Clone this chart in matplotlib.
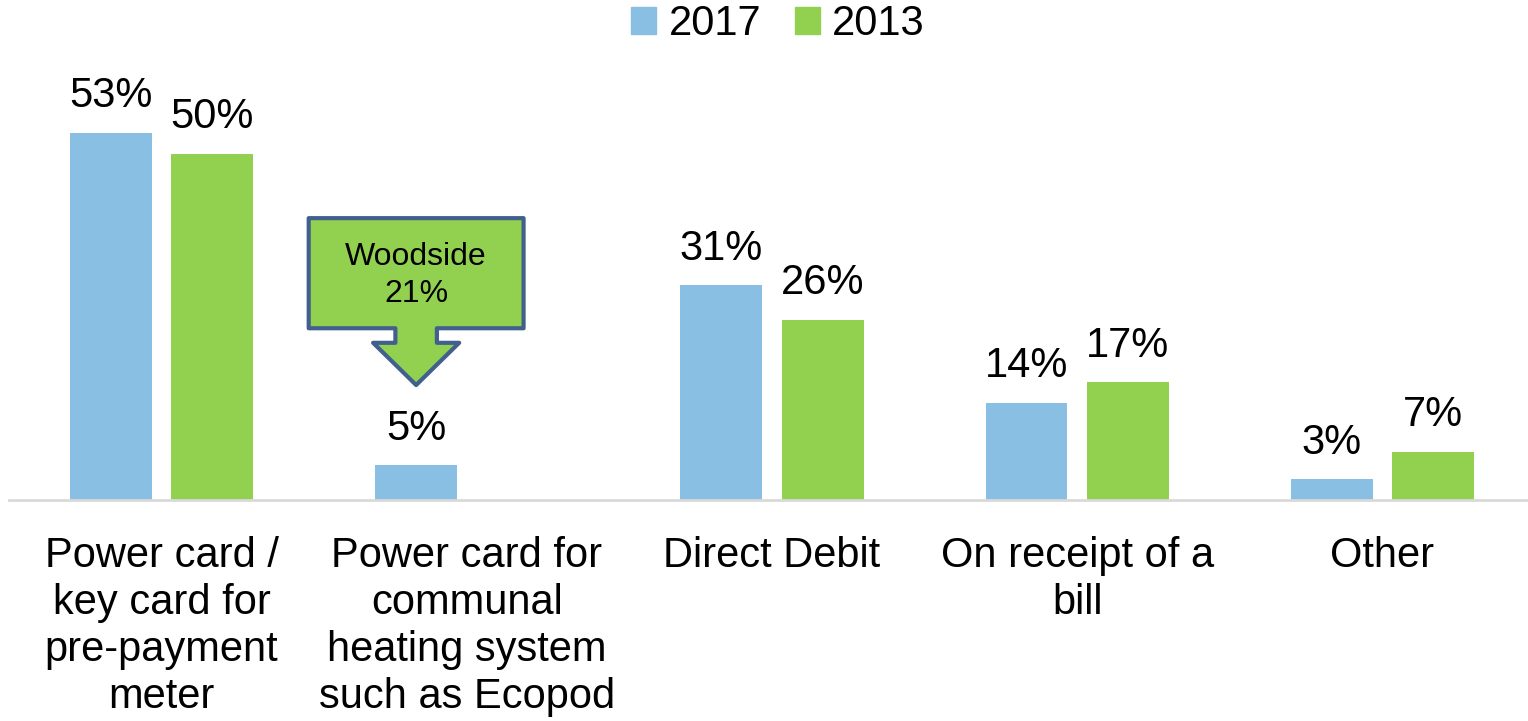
import matplotlib.pyplot as plt
from matplotlib.patches import Polygon, Patch
import numpy as np

plt.rcParams['font.family'] = ['Liberation Sans', 'DejaVu Sans']

categories = ["Power card /\nkey card for\npre-payment\nmeter",
              "Power card for\ncommunal\nheating system\nsuch as Ecopod",
              "Direct Debit",
              "On receipt of a\nbill",
              "Other"]
vals_2017 = [53, 5, 31, 14, 3]
vals_2013 = [50, None, 26, 17, 7]
woodside_pct = 21

c2017 = '#89BFE2'
c2013 = '#92D050'

fig = plt.figure(figsize=(15.28, 7.21), dpi=100)
ax = fig.add_axes([9 / 1528, 221 / 721, 1526 / 1528, 415.5 / 721])

x = np.arange(len(categories))
w = 0.268
off = 0.166

for xi, v in zip(x, vals_2017):
    ax.bar(xi - off, v, w, color=c2017)
    ax.annotate(f"{v}%", (xi - off, v), xytext=(0, 12), textcoords='offset points',
                ha='center', va='bottom', fontsize=30)
for xi, v in zip(x, vals_2013):
    if v is None:
        continue
    ax.bar(xi + off, v, w, color=c2013)
    ax.annotate(f"{v}%", (xi + off, v), xytext=(0, 12), textcoords='offset points',
                ha='center', va='bottom', fontsize=30)

ax.set_xlim(-0.5, len(categories) - 0.5)
ax.set_ylim(0, 60)
for s in ['top', 'right', 'left']:
    ax.spines[s].set_visible(False)
ax.spines['bottom'].set_color('#D9D9D9')
ax.spines['bottom'].set_linewidth(2)
ax.set_yticks([])
ax.set_xticks(x)
ax.set_xticklabels(categories, fontsize=30, linespacing=1.22, va='top')
ax.tick_params(axis='x', length=0, pad=26)

# down-arrow callout pointing at the communal heating bar
cx = 1 - off
tip = vals_2017[1] + 11.6
rw, sw, hw = 0.352, 0.068, 0.141
top, rb, ht = tip + 24.1, tip + 8.2, tip + 6.1
pts = [(cx - rw, top), (cx + rw, top), (cx + rw, rb), (cx + sw, rb), (cx + sw, ht),
       (cx + hw, ht), (cx, tip), (cx - hw, ht), (cx - sw, ht), (cx - sw, rb),
       (cx - rw, rb)]
ax.add_patch(Polygon(pts, closed=True, facecolor=c2013, edgecolor='#41608E',
                     linewidth=3, joinstyle='round', clip_on=False, zorder=5))
ax.text(cx, (top + rb) / 2 - 0.3, f"Woodside\n{woodside_pct}%", ha='center', va='center',
        fontsize=23, linespacing=1.3, zorder=6)

handles = [Patch(color=c2017, label='2017'), Patch(color=c2013, label='2013')]
fig.legend(handles=handles, loc='center', bbox_to_anchor=(778 / 1528, 1 - 24 / 721),
           ncol=2, frameon=False, fontsize=30, handlelength=0.6, handleheight=0.6,
           handletextpad=0.3, columnspacing=0.8)

fig.savefig('out.png', dpi=100)
